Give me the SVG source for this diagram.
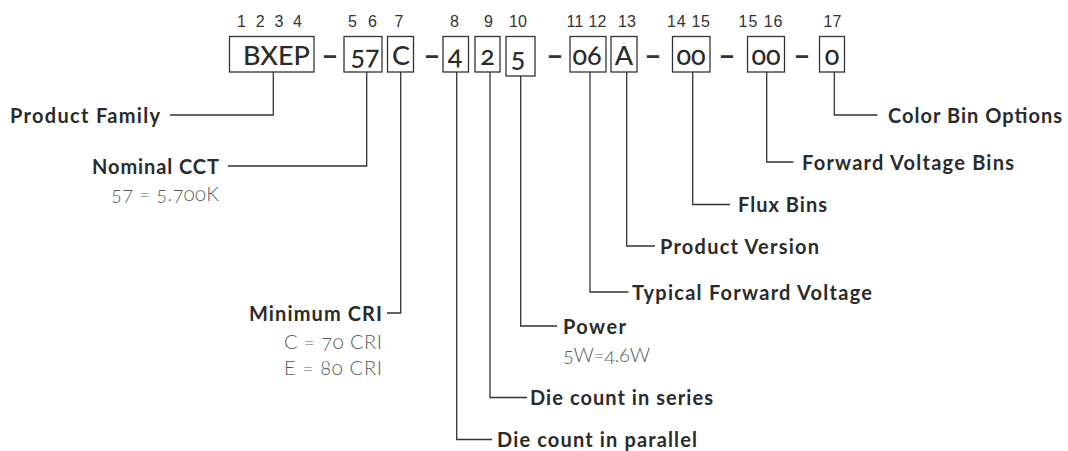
<svg xmlns="http://www.w3.org/2000/svg" width="1068" height="451" viewBox="0 0 1068 451">
<style>
.bg{fill:#ffffff}
.box{fill:#ffffff;stroke:#333333;stroke-width:1.3}
.code{font-family:Lato,"Noto Sans",sans-serif;font-size:27px;font-weight:500;fill:#2b2b2b;text-anchor:middle;font-variant-numeric:oldstyle-nums}
.idx{font-family:"Liberation Sans",Arial,sans-serif;font-size:16px;fill:#333333;text-anchor:middle}
.dash{font-family:Lato,"Noto Sans",sans-serif;font-size:30px;font-weight:700;fill:#333333;text-anchor:middle}
.lbl{font-family:Lato,"Noto Sans",sans-serif;font-size:20px;font-weight:700;fill:#2b2b2b}
.sub{font-family:Lato,"Noto Sans",sans-serif;font-size:20px;font-weight:300;fill:#5a5a5a;font-variant-numeric:oldstyle-nums}
.end{text-anchor:end}
.conn{fill:none;stroke:#333333;stroke-width:1.3}
</style>
<rect class="bg" x="0" y="0" width="1068" height="451"/>

<g id="code-bxep">
<text class="idx" x="269.5" y="27" textLength="65">1 2 3 4</text>
<rect class="box" x="229.5" y="36.5" width="84.5" height="35.5"/>
<text class="code" x="276.5" y="65">BXEP</text>
</g>
<text class="dash" x="330" y="66">–</text>
<g id="code-57">
<text class="idx" x="362.5" y="27" textLength="29">5 6</text>
<rect class="box" x="344" y="36.5" width="38" height="35.5"/>
<text class="code" x="365" y="65">57</text>
</g>
<g id="code-c">
<text class="idx" x="399" y="27">7</text>
<rect class="box" x="387.5" y="36.5" width="26" height="35.5"/>
<text class="code" x="401" y="65">C</text>
</g>
<text class="dash" x="432" y="66">–</text>
<g id="code-4">
<text class="idx" x="454.5" y="27">8</text>
<rect class="box" x="443" y="36.5" width="25.5" height="35.5"/>
<text class="code" x="455" y="65">4</text>
</g>
<g id="code-2">
<text class="idx" x="488.5" y="27">9</text>
<rect class="box" x="475" y="36.5" width="25" height="35.5"/>
<text class="code" x="487.5" y="65">2</text>
</g>
<g id="code-5">
<text class="idx" x="518" y="27">10</text>
<rect class="box" x="506" y="36.5" width="29" height="39.5"/>
<text class="code" x="518" y="67">5</text>
</g>
<text class="dash" x="555" y="66">–</text>
<g id="code-06">
<text class="idx" x="586.5" y="27" textLength="40">11 12</text>
<rect class="box" x="570" y="36.5" width="36" height="35.5"/>
<text class="code" x="587" y="65">06</text>
</g>
<g id="code-a">
<text class="idx" x="627" y="27">13</text>
<rect class="box" x="611" y="36.5" width="26" height="35.5"/>
<text class="code" x="624" y="65">A</text>
</g>
<text class="dash" x="653" y="66">–</text>
<g id="code-flux">
<text class="idx" x="688.5" y="27" textLength="43">14 15</text>
<rect class="box" x="672.5" y="36.5" width="37.5" height="35.5"/>
<text class="code" x="691" y="65">00</text>
</g>
<text class="dash" x="727" y="66">–</text>
<g id="code-vf">
<text class="idx" x="760.5" y="27" textLength="44">15 16</text>
<rect class="box" x="747.5" y="36.5" width="37" height="35.5"/>
<text class="code" x="766" y="65">00</text>
</g>
<text class="dash" x="802" y="66">–</text>
<g id="code-color">
<text class="idx" x="832.5" y="27">17</text>
<rect class="box" x="819.5" y="36.5" width="25" height="35.5"/>
<text class="code" x="832" y="65">0</text>
</g>

<g id="connectors">
<path class="conn" d="M273.3 72V115H170"/>
<path class="conn" d="M366.7 72V166H228"/>
<path class="conn" d="M400.7 72V313H387"/>
<path class="conn" d="M456.7 72V439.5H492"/>
<path class="conn" d="M490 72V397.5H527"/>
<path class="conn" d="M520.7 76V326H557"/>
<path class="conn" d="M590 72V292H628.5"/>
<path class="conn" d="M626.7 72V246H655"/>
<path class="conn" d="M692.7 72V204.5H730"/>
<path class="conn" d="M766.7 72V162H793.5"/>
<path class="conn" d="M834.3 72V115H877.5"/>
</g>

<g id="label-product-family">
<text class="lbl" x="10" y="122.5" textLength="150">Product Family</text>
</g>
<g id="label-nominal-cct">
<text class="lbl end" x="219" y="174" textLength="127">Nominal CCT</text>
<text class="sub end" x="219" y="201" textLength="108">57 = 5.700K</text>
</g>
<g id="label-minimum-cri">
<text class="lbl end" x="382" y="320.5" textLength="133">Minimum CRI</text>
<text class="sub end" x="382" y="349" textLength="98">C = 70 CRI</text>
<text class="sub end" x="382" y="375" textLength="98">E = 80 CRI</text>
</g>
<g id="label-die-parallel">
<text class="lbl" x="497" y="447" textLength="200">Die count in parallel</text>
</g>
<g id="label-die-series">
<text class="lbl" x="530" y="405" textLength="183">Die count in series</text>
</g>
<g id="label-power">
<text class="lbl" x="563" y="333.5" textLength="63">Power</text>
<text class="sub" x="563" y="362" textLength="87">5W=4.6W</text>
</g>
<g id="label-typical-vf">
<text class="lbl" x="632" y="299.5" textLength="240">Typical Forward Voltage</text>
</g>
<g id="label-product-version">
<text class="lbl" x="660" y="253.5" textLength="159">Product Version</text>
</g>
<g id="label-flux-bins">
<text class="lbl" x="738" y="212" textLength="89">Flux Bins</text>
</g>
<g id="label-vf-bins">
<text class="lbl" x="802" y="169.5" textLength="212">Forward Voltage Bins</text>
</g>
<g id="label-color-bin">
<text class="lbl" x="888" y="122.5" textLength="174">Color Bin Options</text>
</g>
</svg>
